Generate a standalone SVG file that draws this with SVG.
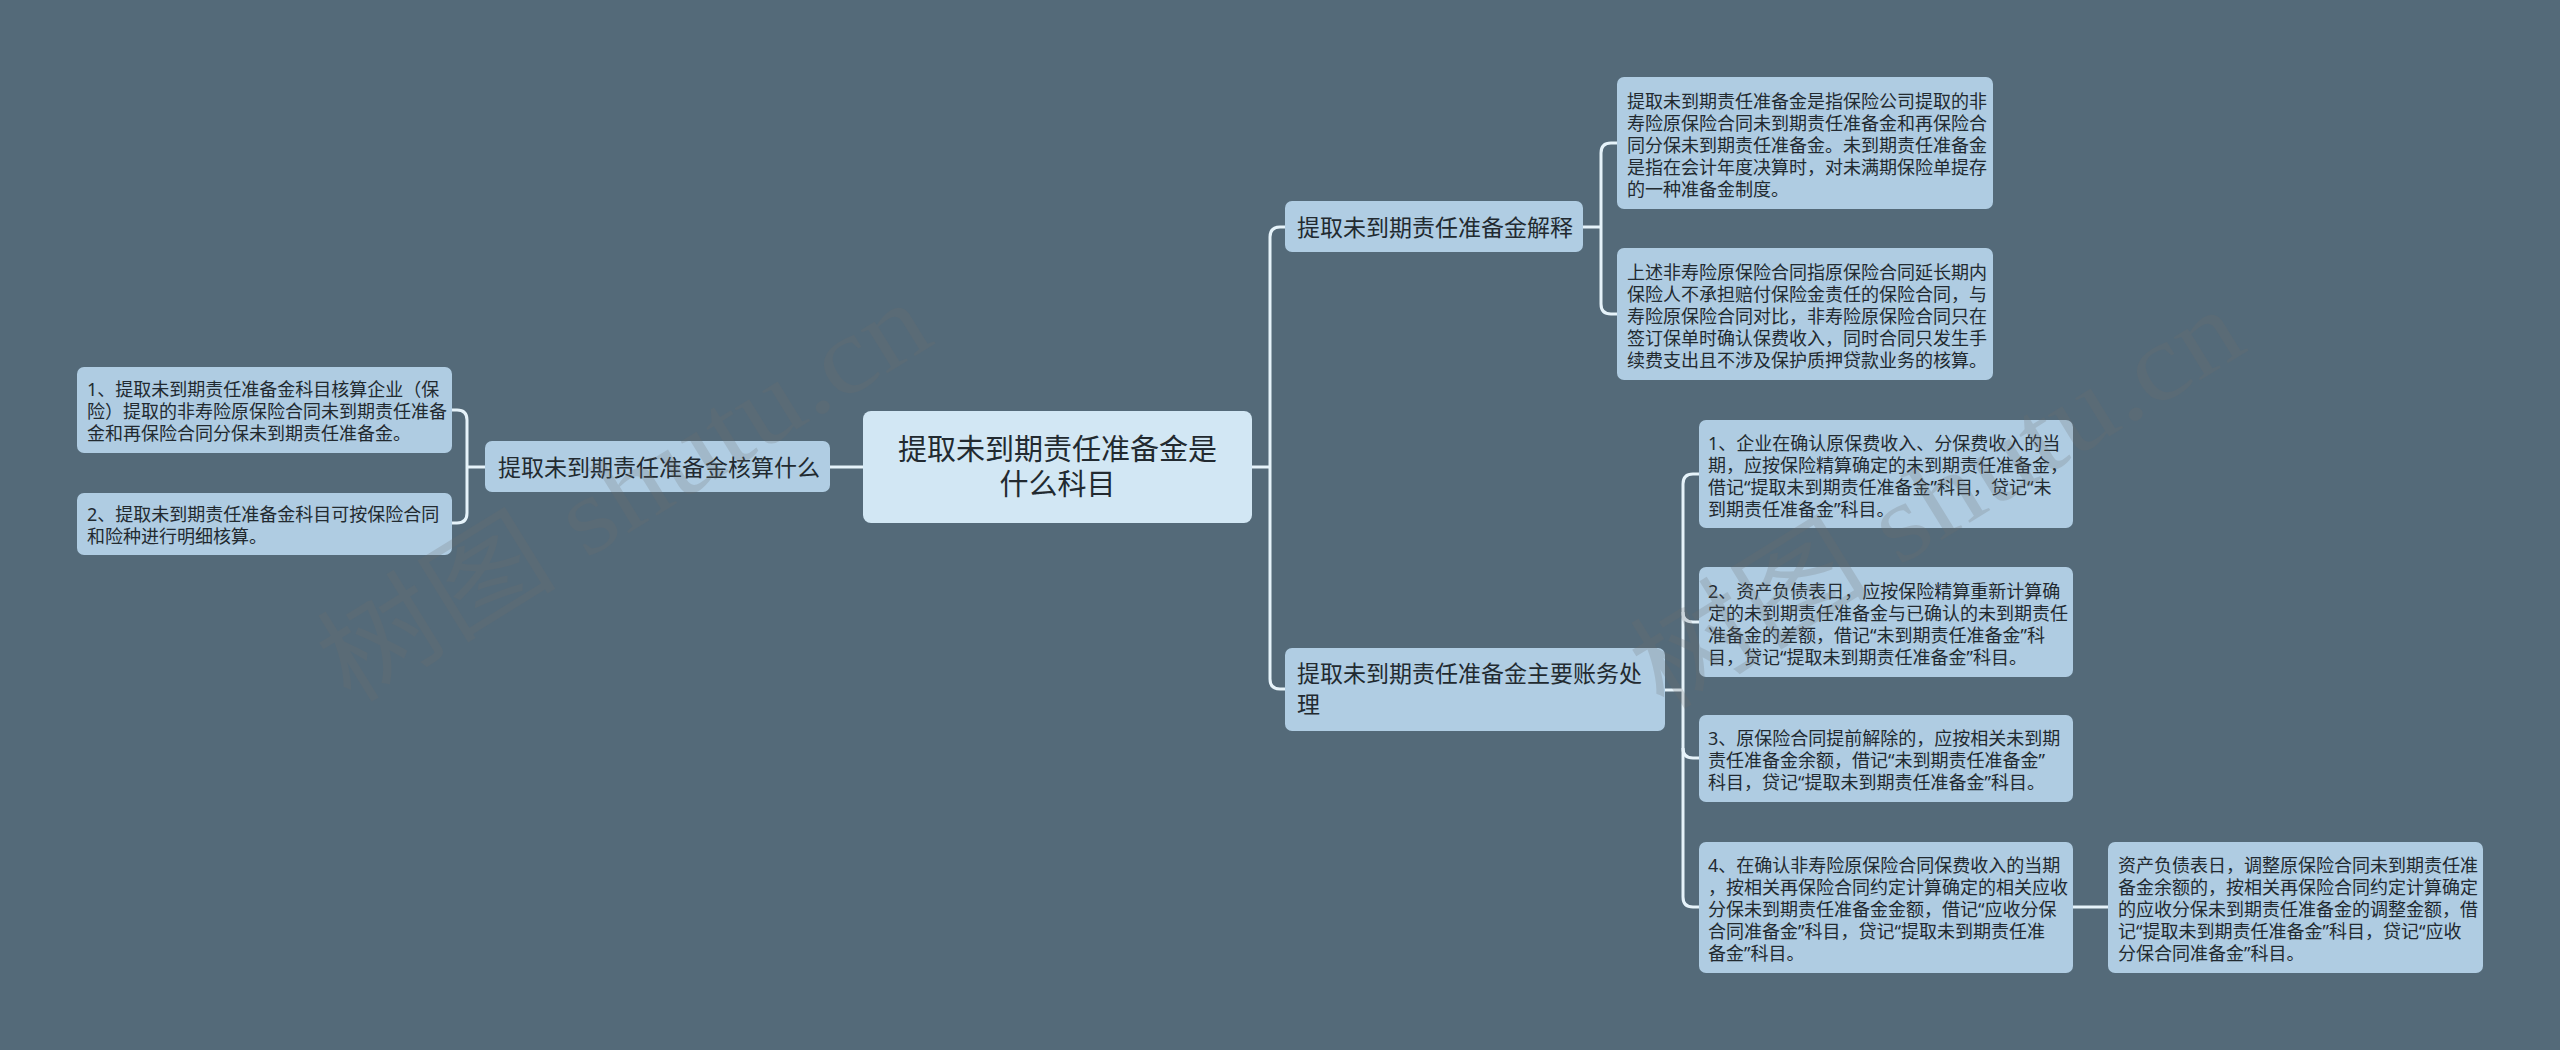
<svg xmlns="http://www.w3.org/2000/svg" width="2560" height="1050" viewBox="0 0 2560 1050">
<defs>
<style>
.bg{fill:#546a79}
.leaf{fill:#afcce2}
.l1{fill:#b0cde3}
.root{fill:#d2e7f4}
.t{font-family:"Noto Sans","Noto Sans CJK SC",sans-serif;fill:#222a30}
.s18{font-size:18px}
.s23{font-size:23px}
.s30{font-size:29px}
.conn{fill:none;stroke:#e6f3fa;stroke-width:3}
.wm{font-family:"Liberation Serif","Noto Sans CJK SC",serif;font-size:110px;fill:#6f6f6f;opacity:0.22}
</style>
</defs>
<rect class="bg" x="0" y="0" width="2560" height="1050"/>

<g id="connectors">
<path class="conn" d="M863,467 H830"/>
<path class="conn" d="M485,467 H467"/>
<path class="conn" d="M452,410 H457 Q467,410 467,420 V513 Q467,523 457,523 H452"/>
<path class="conn" d="M1252,467 H1270"/>
<path class="conn" d="M1285,227 H1280 Q1270,227 1270,237 V679 Q1270,689 1280,689 H1285"/>
<path class="conn" d="M1583,227 H1601"/>
<path class="conn" d="M1617,143 H1611 Q1601,143 1601,153 V304 Q1601,314 1611,314 H1617"/>
<path class="conn" d="M1665,690 H1683"/>
<path class="conn" d="M1699,474 H1693 Q1683,474 1683,484 V897 Q1683,907 1693,907 H1699"/>
<path class="conn" d="M1683,612 Q1683,622 1693,622 H1699"/>
<path class="conn" d="M1683,748 Q1683,758 1693,758 H1699"/>
<path class="conn" d="M2073,907 H2108"/>
</g>

<g id="root">
<rect class="root" x="863" y="411" width="389" height="112" rx="8"/>
<text class="t s30" text-anchor="middle"><tspan x="1057.5" y="460">提取未到期责任准备金是</tspan><tspan x="1057.5" y="495">什么科目</tspan></text>
</g>

<g id="n-left">
<rect class="l1" x="485" y="441" width="345" height="51" rx="7"/>
<text class="t s23" x="498" y="476">提取未到期责任准备金核算什么</text>
</g>

<g id="n-left-1">
<rect class="leaf" x="77" y="367" width="375" height="86" rx="7"/>
<text class="t s18"><tspan x="87" y="396">1、提取未到期责任准备金科目核算企业（保</tspan><tspan x="87" y="418">险）提取的非寿险原保险合同未到期责任准备</tspan><tspan x="87" y="440">金和再保险合同分保未到期责任准备金。</tspan></text>
</g>

<g id="n-left-2">
<rect class="leaf" x="77" y="493" width="375" height="62" rx="7"/>
<text class="t s18"><tspan x="87" y="521">2、提取未到期责任准备金科目可按保险合同</tspan><tspan x="87" y="543">和险种进行明细核算。</tspan></text>
</g>

<g id="n-expl">
<rect class="l1" x="1285" y="201" width="298" height="51" rx="7"/>
<text class="t s23" x="1297" y="236">提取未到期责任准备金解释</text>
</g>

<g id="n-expl-1">
<rect class="leaf" x="1617" y="77" width="376" height="132" rx="7"/>
<text class="t s18"><tspan x="1627" y="108">提取未到期责任准备金是指保险公司提取的非</tspan><tspan x="1627" y="130">寿险原保险合同未到期责任准备金和再保险合</tspan><tspan x="1627" y="152">同分保未到期责任准备金。未到期责任准备金</tspan><tspan x="1627" y="174">是指在会计年度决算时，对未满期保险单提存</tspan><tspan x="1627" y="196">的一种准备金制度。</tspan></text>
</g>

<g id="n-expl-2">
<rect class="leaf" x="1617" y="248" width="376" height="132" rx="7"/>
<text class="t s18"><tspan x="1627" y="279">上述非寿险原保险合同指原保险合同延长期内</tspan><tspan x="1627" y="301">保险人不承担赔付保险金责任的保险合同，与</tspan><tspan x="1627" y="323">寿险原保险合同对比，非寿险原保险合同只在</tspan><tspan x="1627" y="345">签订保单时确认保费收入，同时合同只发生手</tspan><tspan x="1627" y="367">续费支出且不涉及保护质押贷款业务的核算。</tspan></text>
</g>

<g id="n-acct">
<rect class="l1" x="1285" y="648" width="380" height="83" rx="7"/>
<text class="t s23"><tspan x="1297" y="682">提取未到期责任准备金主要账务处</tspan><tspan x="1297" y="713">理</tspan></text>
</g>

<g id="n-acct-1">
<rect class="leaf" x="1699" y="420" width="374" height="108" rx="7"/>
<text class="t s18"><tspan x="1708" y="450">1、企业在确认原保费收入、分保费收入的当</tspan><tspan x="1708" y="472">期，应按保险精算确定的未到期责任准备金，</tspan><tspan x="1708" y="494">借记“提取未到期责任准备金”科目，贷记“未</tspan><tspan x="1708" y="516">到期责任准备金”科目。</tspan></text>
</g>

<g id="n-acct-2">
<rect class="leaf" x="1699" y="567" width="374" height="110" rx="7"/>
<text class="t s18"><tspan x="1708" y="598">2、资产负债表日，应按保险精算重新计算确</tspan><tspan x="1708" y="620">定的未到期责任准备金与已确认的未到期责任</tspan><tspan x="1708" y="642">准备金的差额，借记“未到期责任准备金”科</tspan><tspan x="1708" y="664">目，贷记“提取未到期责任准备金”科目。</tspan></text>
</g>

<g id="n-acct-3">
<rect class="leaf" x="1699" y="715" width="374" height="87" rx="7"/>
<text class="t s18"><tspan x="1708" y="745">3、原保险合同提前解除的，应按相关未到期</tspan><tspan x="1708" y="767">责任准备金余额，借记“未到期责任准备金”</tspan><tspan x="1708" y="789">科目，贷记“提取未到期责任准备金”科目。</tspan></text>
</g>

<g id="n-acct-4">
<rect class="leaf" x="1699" y="842" width="374" height="131" rx="7"/>
<text class="t s18"><tspan x="1708" y="872">4、在确认非寿险原保险合同保费收入的当期</tspan><tspan x="1708" y="894">，按相关再保险合同约定计算确定的相关应收</tspan><tspan x="1708" y="916">分保未到期责任准备金金额，借记“应收分保</tspan><tspan x="1708" y="938">合同准备金”科目，贷记“提取未到期责任准</tspan><tspan x="1708" y="960">备金”科目。</tspan></text>
</g>

<g id="n-acct-4-1">
<rect class="leaf" x="2108" y="842" width="375" height="131" rx="7"/>
<text class="t s18"><tspan x="2118" y="872">资产负债表日，调整原保险合同未到期责任准</tspan><tspan x="2118" y="894">备金余额的，按相关再保险合同约定计算确定</tspan><tspan x="2118" y="916">的应收分保未到期责任准备金的调整金额，借</tspan><tspan x="2118" y="938">记“提取未到期责任准备金”科目，贷记“应收</tspan><tspan x="2118" y="960">分保合同准备金”科目。</tspan></text>
</g>

<g id="watermark">
<text class="wm" transform="translate(350,705) rotate(-31.7)" textLength="690" lengthAdjust="spacingAndGlyphs">树图 shutu.cn</text>
<text class="wm" transform="translate(1663,712) rotate(-31.7)" textLength="690" lengthAdjust="spacingAndGlyphs">树图 shutu.cn</text>
</g>
</svg>
